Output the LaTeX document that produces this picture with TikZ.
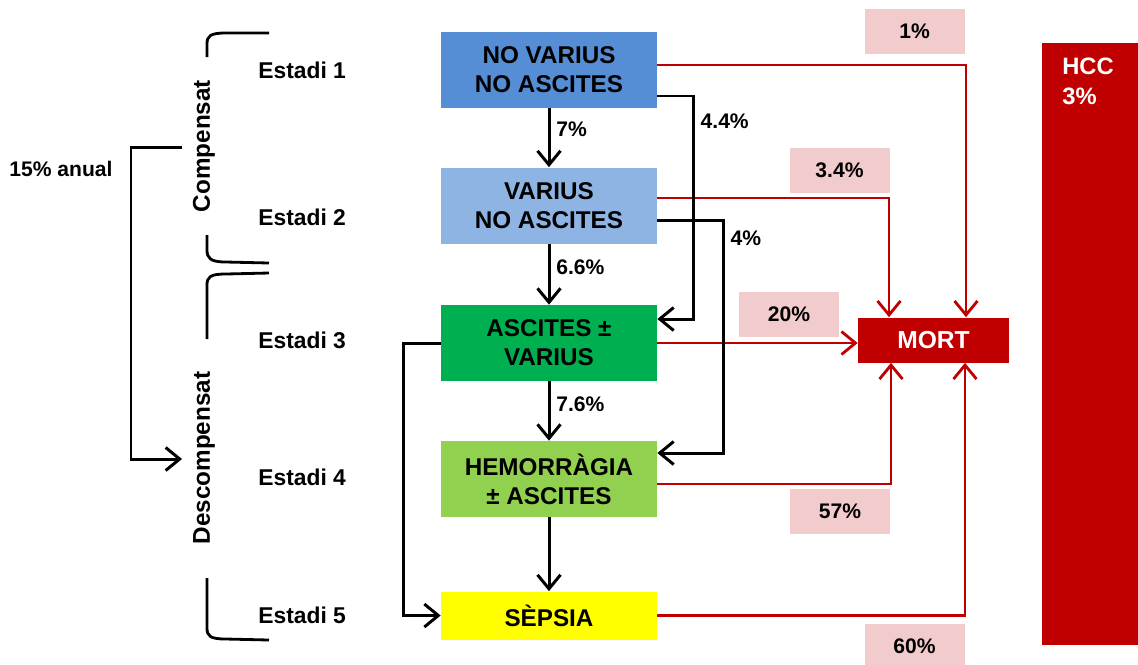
\documentclass[tikz,border=0pt]{standalone}
\usepackage{fontspec}
\setmainfont{Liberation Sans}
\usepackage{tikz}
\usetikzlibrary{arrows.meta, positioning}
\usepackage{xcolor}

\definecolor{stageone}{RGB}{85,142,213}
\definecolor{stagetwo}{RGB}{142,180,227}
\definecolor{stagethree}{RGB}{0,176,80}
\definecolor{stagefour}{RGB}{146,208,80}
\definecolor{stagefive}{RGB}{255,255,0}
\definecolor{mortred}{RGB}{192,0,0}
\definecolor{pinkbox}{RGB}{242,204,204}

\begin{document}
\begin{tikzpicture}[
    x=0.02cm, y=-0.02cm,
    stage/.style={rectangle, minimum width=4.32cm, minimum height=1.52cm, inner sep=0pt, align=center, font=\fontsize{13.8}{16.6}\selectfont\bfseries},
    estadi/.style={anchor=west, inner sep=0pt, font=\fontsize{13}{15}\selectfont\bfseries},
    pct/.style={font=\fontsize{12}{14}\selectfont\bfseries},
    pctbox/.style={rectangle, fill=pinkbox, minimum width=2cm, minimum height=0.9cm, inner sep=0pt, font=\fontsize{12}{14}\selectfont\bfseries},
    phase/.style={rotate=90, inner sep=0pt, font=\fontsize{13.8}{16}\selectfont\bfseries},
    arrow/.style={-{Straight Barb[length=2.8mm, width=4.6mm]}, line width=1.7pt},
    redarrow/.style={arrow, draw=mortred, line width=1.6pt},
    bracket/.style={line width=1.6pt},
]
\useasboundingbox (0,0) rectangle (1138,664);

\node[stage, fill=stageone]   (s1) at (549,70)    {NO VARIUS\\NO ASCITES};
\node[stage, fill=stagetwo]   (s2) at (549,205.5) {VARIUS\\NO ASCITES};
\node[stage, fill=stagethree] (s3) at (549,343)   {ASCITES ±\\VARIUS};
\node[stage, fill=stagefour]  (s4) at (549,479)   {HEMORRÀGIA\\± ASCITES};
\node[stage, fill=stagefive, minimum height=0.96cm] (s5) at (549,615.5) {SÈPSIA};

\node[estadi] (e1) at (258,70)  {Estadi 1};
\node[estadi] (e2) at (258,217) {Estadi 2};
\node[estadi] (e3) at (258,340) {Estadi 3};
\node[estadi] (e4) at (258,477) {Estadi 4};
\node[estadi] (e5) at (258,615) {Estadi 5};

\node[rectangle, fill=mortred, text=white, minimum width=3.02cm, minimum height=0.9cm, font=\fontsize{14}{16}\selectfont\bfseries] (mort) at (933.5,340) {MORT};
\node[rectangle, fill=mortred, minimum width=1.92cm, minimum height=12.04cm, inner sep=0pt] (hcc) at (1090,344) {};
\node[anchor=north west, text=white, align=left, inner sep=0pt, font=\fontsize{13.5}{17}\selectfont\bfseries] (hcctext) at (1062,58) {HCC\\3\%};

\node[pctbox] (p1)  at (914.5,31)  {1\%};
\node[pctbox] (p2)  at (839.5,170) {3.4\%};
\node[pctbox] (p3)  at (789,314)   {20\%};
\node[pctbox] (p4)  at (840,511)   {57\%};
\node[pctbox] (p5)  at (914.5,646) {60\%};

% Phases
\node[phase] (comp) at (204,146) {Compensat};
\node[phase] (desc) at (204,458) {Descompensat};
\node[pct]   (anual) at (61,169) {15\% anual};
\coordinate (compin) at (182,147);
\coordinate (descin) at (182,459);

\draw[bracket] (269,33) -- (226,33) .. controls (210,33) and (207,36) .. (207,44) -- (207,57);
\draw[bracket] (207,235) -- (207,250) .. controls (207,258) and (210,262) .. (226,262) -- (269,263);
\draw[bracket] (269,273) -- (226,274) .. controls (210,274) and (207,277) .. (207,285) -- (207,339);
\draw[bracket] (207,578) -- (207,628) .. controls (207,636) and (210,639) .. (226,639) -- (269,640);
\draw[arrow] (compin) -- ++(-51,0) |- (descin);

% Deaths
\draw[redarrow] ([yshift=0.1cm]s1.east)  -| ([xshift=0.65cm]mort.north);
\draw[redarrow] ([yshift=0.15cm]s2.east) -| ([xshift=-0.89cm]mort.north);
\draw[redarrow] (s3.east) -- (s3.east -| mort.west);
\draw[redarrow] ([yshift=-0.1cm]s4.east) -| ([xshift=-0.85cm]mort.south);
\draw[redarrow] (s5.east) -| ([xshift=0.63cm]mort.south);

% Vertical flow
\draw[arrow] (s1) -- node[pct, right, pos=0.35]{7\%}   (s2);
\draw[arrow] (s2) -- node[pct, right, pos=0.39]{6.6\%} (s3);
\draw[arrow] (s3) -- node[pct, right, pos=0.38]{7.6\%} (s4);
\draw[arrow] (s4) -- (s5);

% Skipping stages
\draw[arrow] ([yshift=-0.52cm]s1.east) -- ++(0.72cm,0)
    |- node[pct, right, pos=0.056]{4.4\%} ([yshift=0.48cm]s3.east);
\draw[arrow] ([yshift=-0.29cm]s2.east) -- ++(1.32cm,0)
    |- node[pct, right, pos=0.04]{4\%} ([yshift=0.52cm]s4.east);
\draw[arrow] (s3.west) -- ++(-0.74cm,0) |- (s5.west);

\end{tikzpicture}
\end{document}
